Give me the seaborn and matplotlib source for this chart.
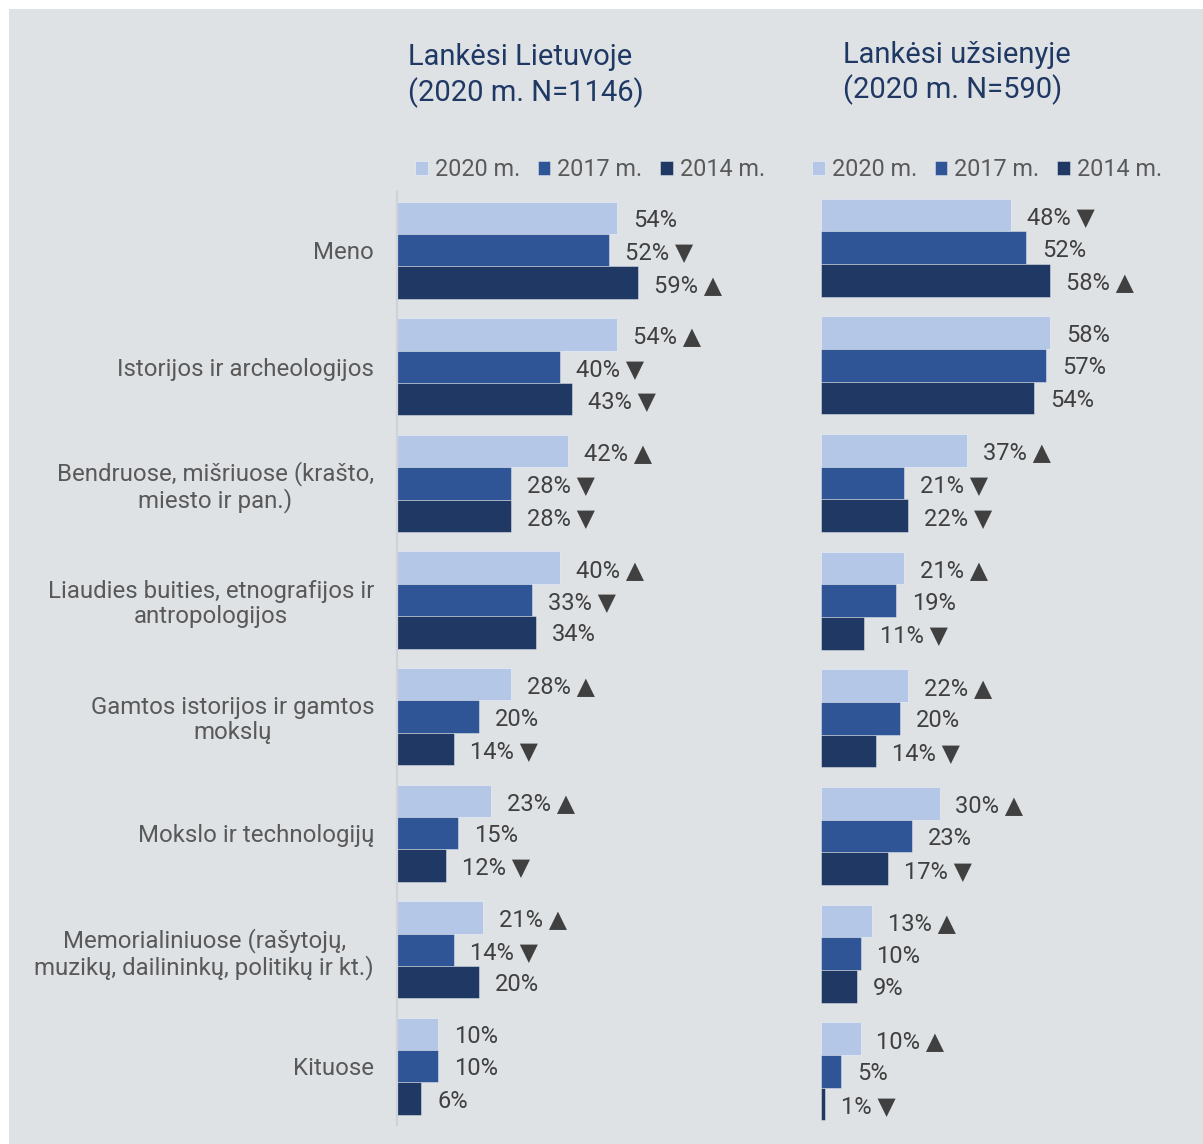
import pandas as pd
import matplotlib
matplotlib.use('Agg')
import matplotlib.pyplot as plt
import seaborn as sns
from matplotlib.patches import Rectangle

# --- data ---
categories = [
    'Meno',
    'Istorijos ir archeologijos',
    'Bendruose, mišriuose (krašto,\nmiesto ir pan.)',
    'Liaudies buities, etnografijos ir\nantropologijos',
    'Gamtos istorijos ir gamtos\nmokslų',
    'Mokslo ir technologijų',
    'Memorialiniuose (rašytojų,\nmuzikų, dailininkų, politikų ir kt.)',
    'Kituose',
]
years = ['2020 m.', '2017 m.', '2014 m.']

# Lankėsi Lietuvoje
lt_2020 = [54, 54, 42, 40, 28, 23, 21, 10]
lt_2017 = [52, 40, 28, 33, 20, 15, 14, 10]
lt_2014 = [59, 43, 28, 34, 14, 12, 20, 6]
lt_mark_2020 = ['', '▲', '▲', '▲', '▲', '▲', '▲', '']
lt_mark_2017 = ['▼', '▼', '▼', '▼', '', '', '▼', '']
lt_mark_2014 = ['▲', '▼', '▼', '', '▼', '▼', '', '']

# Lankėsi užsienyje
abr_2020 = [48, 58, 37, 21, 22, 30, 13, 10]
abr_2017 = [52, 57, 21, 19, 20, 23, 10, 5]
abr_2014 = [58, 54, 22, 11, 14, 17, 9, 1]
abr_mark_2020 = ['▼', '', '▲', '▲', '▲', '▲', '▲', '▲']
abr_mark_2017 = ['', '', '▼', '', '', '', '', '']
abr_mark_2014 = ['▲', '', '▼', '▼', '▼', '▼', '', '▼']

colors = {'2020 m.': '#b4c7e7', '2017 m.': '#2f5597', '2014 m.': '#1f3864'}


def to_long(v2020, v2017, v2014):
    rows = []
    for yr, vals in zip(years, [v2020, v2017, v2014]):
        for c, v in zip(categories, vals):
            rows.append({'cat': c, 'year': yr, 'value': v})
    return pd.DataFrame(rows)


sns.set_theme(style='white')
plt.rcParams['font.family'] = ['Roboto', 'DejaVu Sans']

W, H = 1203, 1144
fig = plt.figure(figsize=(W / 100, H / 100), dpi=100, facecolor='white')
fig.patches.append(Rectangle((9 / W, 0), 1, (H - 9) / H, transform=fig.transFigure,
                             facecolor='#dfe2e5', edgecolor='none', zorder=-10))


def px_axes(left, top, width, bottom):
    return fig.add_axes([left / W, 1 - bottom / H, width / W, (bottom - top) / H])


ax1 = px_axes(397, 192, 4.08 * 70, 1124.6)
ax2 = px_axes(821, 188.8, 3.95 * 70, 1130.2)

panels = [
    (ax1, to_long(lt_2020, lt_2017, lt_2014), [lt_2020, lt_2017, lt_2014],
     [lt_mark_2020, lt_mark_2017, lt_mark_2014], 415),
    (ax2, to_long(abr_2020, abr_2017, abr_2014), [abr_2020, abr_2017, abr_2014],
     [abr_mark_2020, abr_mark_2017, abr_mark_2014], 812),
]

for ax, df, vals, marks, leg_x in panels:
    ax.set_facecolor('none')
    sns.barplot(data=df, y='cat', x='value', hue='year', hue_order=years,
                palette=colors, saturation=1, orient='h', width=0.833,
                errorbar=None, ax=ax, edgecolor=(1, 1, 1, 0.45), linewidth=0.6)
    for cont, v, m in zip(ax.containers, vals, marks):
        labels = [f'{a}%' + (f' {b}' if b else '') for a, b in zip(v, m)]
        anns = ax.bar_label(cont, labels=labels, padding=11.5, fontsize=17, color='#404040')
        for ann in anns:
            ann.xyann = (11.5, -1.8)  # nudge a little below bar centre, like the original
    ax.set_xlim(0, 70)
    ax.set_ylim(7.5, -0.5)
    ax.set_xticks([])
    ax.set_xlabel('')
    ax.set_ylabel('')
    for s in ['top', 'right', 'bottom']:
        ax.spines[s].set_visible(False)
    sns.move_legend(ax, 'center left', bbox_to_anchor=(leg_x / W, 1 - 170 / H),
                    bbox_transform=fig.transFigure, ncol=3, frameon=False, title=None,
                    fontsize=16.8, handlelength=0.55, handleheight=0.55,
                    handletextpad=0.3, columnspacing=0.75, borderpad=0,
                    borderaxespad=0, labelcolor='#595959')

ax1.spines['left'].set_color('#cfd2d6')
ax1.spines['left'].set_linewidth(1.6)
ax1.tick_params(axis='y', length=0, pad=16.5, labelsize=17.3, labelcolor='#595959')
for lbl in ax1.get_yticklabels():
    lbl.set_multialignment('center')
    lbl.set_linespacing(1.12)

ax2.spines['left'].set_visible(False)
ax2.tick_params(axis='y', length=0, labelleft=False)

title_color = '#1f3864'
fig.text(408 / W, 1 - 65 / H, 'Lankėsi Lietuvoje', fontsize=21, color=title_color, va='baseline')
fig.text(408 / W, 1 - 101 / H, '(2020 m. N=1146)', fontsize=21, color=title_color, va='baseline')
fig.text(843 / W, 1 - 63 / H, 'Lankėsi užsienyje', fontsize=21, color=title_color, va='baseline')
fig.text(843 / W, 1 - 98 / H, '(2020 m. N=590)', fontsize=21, color=title_color, va='baseline')

fig.savefig('out.png', dpi=100)
